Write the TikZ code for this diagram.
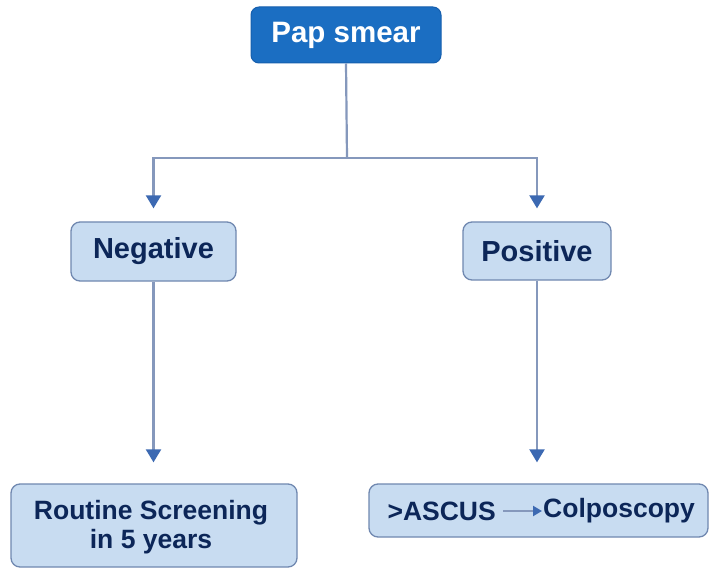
\documentclass[tikz,border=0pt]{standalone}
\usepackage{fontspec}
\setmainfont{Liberation Sans}
\usetikzlibrary{arrows.meta}
\definecolor{topblue}{HTML}{1B6EC2}
\definecolor{topedge}{HTML}{165FAE}
\definecolor{boxfill}{HTML}{C8DCF1}
\definecolor{boxedge}{HTML}{7088B0}
\definecolor{txt}{HTML}{0C2658}
\definecolor{linec}{HTML}{8598BC}
\definecolor{tipc}{HTML}{3C69B2}
\tikzset{
  topbox/.style={draw=topedge, fill=topblue, rounded corners=8pt, line width=1pt,
    text=white, font=\fontsize{29.5}{33}\selectfont\bfseries, inner sep=0pt},
  lightbox/.style={draw=boxedge, fill=boxfill, rounded corners=9pt, line width=1.3pt,
    text=txt, font=\fontsize{29}{32}\selectfont\bfseries, inner sep=0pt, align=center},
  smalltxt/.style={text=txt, font=\fontsize{26.5}{29}\selectfont\bfseries, inner sep=0pt, align=center},
  conn/.style={draw=linec, line width=2.2pt},
  arr/.style={conn, -{Triangle[width=15pt,length=13pt,fill=tipc,color=tipc]}},
  minarr/.style={conn, -{Triangle[width=10pt,length=9pt,fill=tipc,color=tipc]}}
}
\begin{document}
\begin{tikzpicture}[x=1pt,y=-1pt]
\useasboundingbox[fill=white] (0,0) rectangle (709,569);
\node[topbox, minimum width=190pt, minimum height=56pt] (pap) at (346,35) {Pap smear};
\node[lightbox, minimum width=165pt, minimum height=59pt] (neg) at (153.5,251.5) {Negative};
\node[lightbox, minimum width=148pt, minimum height=58pt] (pos) at (537,251) {Positive};
\node[lightbox, minimum width=286pt, minimum height=83pt] (rout) at (154,525.5) {};
\node[smalltxt] (routt) at (151,527) {Routine Screening\\in 5 years};
\node[lightbox, minimum width=339pt, minimum height=53pt] (colbox) at (538.5,510.5) {};
\node[smalltxt, anchor=east] (ascus) at (496,511) {>ASCUS};
\node[smalltxt, anchor=west] (colpo) at (543,511) {Colposcopy};
\coordinate (j) at (347,158);
\draw[conn] (pap.south) -- (j);
\draw[arr, shorten >=13pt] (j) -| (neg.north);
\draw[arr, shorten >=13pt] (j) -| (pos.north);
\draw[arr, shorten >=21pt] (neg.south) -- (neg.south |- rout.north);
\draw[arr, shorten >=21pt] (pos.south) -- (pos.south |- colbox.north);
\draw[minarr] ([xshift=7pt]ascus.east) -- ([xshift=-1pt]colpo.west);
\end{tikzpicture}
\end{document}
